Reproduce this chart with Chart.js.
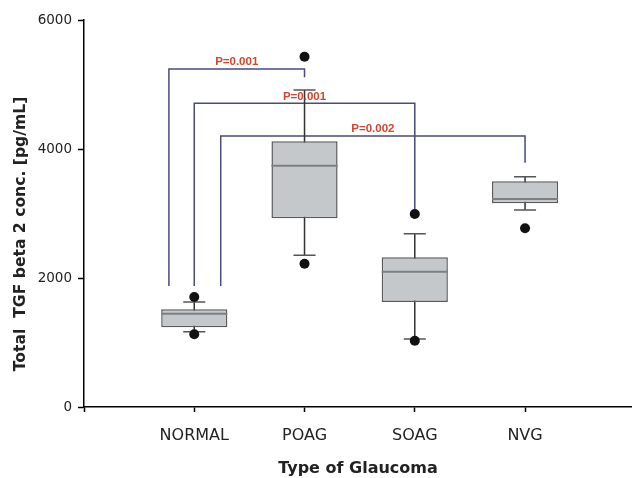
<!DOCTYPE html>
<html>
<head>
<meta charset="utf-8">
<script src="https://cdn.jsdelivr.net/npm/chart.js@4/dist/chart.umd.min.js"></script>
<style>
  body { margin: 0; background: #fff; }
</style>
</head>
<body>
<canvas id="chart" width="632" height="478"></canvas>
<script>
// Box plot data (pg/mL)
const categories = ['NORMAL', 'POAG', 'SOAG', 'NVG'];
const q1Values = [1236, 2926, 1628, 3158];
const medianValues = [1447, 3741, 2098, 3225];
const q3Values = [1515, 4119, 2321, 3499];
const whiskerLow = [1167, 2352, 1054, 3054];
const whiskerHigh = [1628, 4915, 2687, 3571];
const outlierValues = [[1705, 1127], [5431, 2222], [2992, 1028], [2770]];

// Significance brackets (group index pairs, bracket height, right leg end)
const bracketPairs = [[0, 1], [0, 2], [0, 3]];
const bracketLevels = [5240, 4708, 4202];
const bracketLegEnds = [5111, 3070, 3788];
const bracketLegStart = 1876;
const bracketLabels = ['P=0.001', 'P=0.001', 'P=0.002'];

const yTicks = [0, 2000, 4000, 6000];

// layout helpers (x units: category i sits at i + 1)
const leftLegShift = [-0.23, 0, 0.24];
const capHalf = 0.1;
const boxHalf = 0.3;

const colors = {
    box: '#c4c8ca',
    boxBorder: '#5a5a5a',
    median: '#7c8082',
    whisker: '#333333',
    cap: '#555555',
    bracket: '#4a4a7c',
    pText: '#d8432b',
    text: '#222222'
};

const pos = i => i + 1;

// build segment lists, a null y breaks the line
const whiskerPts = [];
const capPts = [];
const medianPts = [];
categories.forEach((c, i) => {
    whiskerPts.push({x: pos(i), y: whiskerLow[i]}, {x: pos(i), y: whiskerHigh[i]}, {x: pos(i), y: null});
    capPts.push({x: pos(i) - capHalf, y: whiskerLow[i]}, {x: pos(i) + capHalf, y: whiskerLow[i]}, {x: pos(i), y: null});
    capPts.push({x: pos(i) - capHalf, y: whiskerHigh[i]}, {x: pos(i) + capHalf, y: whiskerHigh[i]}, {x: pos(i), y: null});
    medianPts.push({x: pos(i) - boxHalf, y: medianValues[i]}, {x: pos(i) + boxHalf, y: medianValues[i]}, {x: pos(i), y: null});
});

const outlierPts = [];
outlierValues.forEach((list, i) => list.forEach(v => outlierPts.push({x: pos(i), y: v})));

const bracketPts = [];
bracketPairs.forEach((p, k) => {
    const xl = pos(p[0]) + leftLegShift[k];
    const xr = pos(p[1]);
    bracketPts.push(
        {x: xl, y: bracketLegStart},
        {x: xl, y: bracketLevels[k]},
        {x: xr, y: bracketLevels[k]},
        {x: xr, y: bracketLegEnds[k]},
        {x: xr, y: null}
    );
});

function segmentLine(data, color, width, order) {
    return {
        type: 'line',
        data: data,
        borderColor: color,
        borderWidth: width,
        pointRadius: 0,
        spanGaps: false,
        fill: false,
        tension: 0,
        order: order
    };
}

// P value labels and rotated y title
const annotations = {
    id: 'annotations',
    afterDatasetsDraw(chart) {
        const {ctx, scales: {x, y}} = chart;
        ctx.save();
        ctx.fillStyle = colors.pText;
        ctx.font = 'bold 11.5px "Liberation Sans", Arial, sans-serif';
        ctx.textAlign = 'center';
        ctx.textBaseline = 'bottom';
        bracketPairs.forEach((p, k) => {
            const xl = pos(p[0]) + leftLegShift[k];
            const xr = pos(p[1]);
            ctx.fillText(bracketLabels[k], x.getPixelForValue((xl + xr) / 2), y.getPixelForValue(bracketLevels[k]) - 1);
        });
        ctx.restore();
    },
    afterDraw(chart) {
        const ctx = chart.ctx;
        ctx.save();
        ctx.translate(21, 234);
        ctx.rotate(-Math.PI / 2);
        ctx.fillStyle = colors.text;
        ctx.font = 'bold 15.6px "DejaVu Sans", sans-serif';
        ctx.textAlign = 'center';
        ctx.textBaseline = 'middle';
        ctx.fillText('Total  TGF beta 2 conc. [pg/mL]', 0, 0);
        ctx.restore();
    }
};

new Chart(document.getElementById('chart'), {
    type: 'bar',
    data: {
        datasets: [
            segmentLine(bracketPts, colors.bracket, 1.5, 6),
            segmentLine(whiskerPts, colors.whisker, 1.5, 5),
            {
                type: 'bar',
                data: categories.map((c, i) => ({x: pos(i), y: [q1Values[i], q3Values[i]]})),
                backgroundColor: colors.box,
                borderColor: colors.boxBorder,
                borderWidth: 1.5,
                borderSkipped: false,
                categoryPercentage: 1,
                barPercentage: 0.6,
                order: 4
            },
            segmentLine(medianPts, colors.median, 2, 3),
            segmentLine(capPts, colors.cap, 1.5, 3),
            {
                type: 'scatter',
                data: outlierPts,
                pointRadius: 5,
                pointBackgroundColor: '#111',
                pointBorderWidth: 0,
                order: 1
            }
        ]
    },
    options: {
        responsive: false,
        animation: false,
        layout: {
            autoPadding: false,
            padding: {left: 0, top: 20, right: 0, bottom: 0}
        },
        plugins: {
            legend: {display: false},
            tooltip: {enabled: false}
        },
        scales: {
            x: {
                type: 'linear',
                min: 0,
                max: 4.97,
                offset: false,
                afterFit: scale => { scale.height = 71; },
                afterBuildTicks: scale => {
                    scale.ticks = [0, 1, 2, 3, 4].map(v => ({value: v}));
                },
                ticks: {
                    padding: 14,
                    color: colors.text,
                    font: {family: '"DejaVu Sans", sans-serif', size: 16},
                    callback: v => categories[v - 1] || ''
                },
                grid: {
                    offset: false,
                    drawOnChartArea: false,
                    tickLength: 5,
                    tickColor: '#000',
                    tickWidth: 1.5
                },
                border: {color: '#000', width: 1.5},
                title: {
                    display: true,
                    text: 'Type of Glaucoma',
                    color: colors.text,
                    font: {family: '"DejaVu Sans", sans-serif', size: 16, weight: 'bold'},
                    padding: {top: 0, bottom: 0}
                }
            },
            y: {
                min: 0,
                max: 6000,
                afterFit: scale => { scale.width = 84; },
                afterBuildTicks: scale => {
                    scale.ticks = yTicks.map(v => ({value: v}));
                },
                ticks: {
                    padding: 6,
                    color: colors.text,
                    font: {family: '"DejaVu Sans", sans-serif', size: 13.5},
                    callback: v => String(v)
                },
                grid: {
                    drawOnChartArea: false,
                    tickLength: 6,
                    tickColor: '#000',
                    tickWidth: 1.5
                },
                border: {color: '#000', width: 1.5}
            }
        }
    },
    plugins: [annotations]
});
</script>
</body>
</html>
